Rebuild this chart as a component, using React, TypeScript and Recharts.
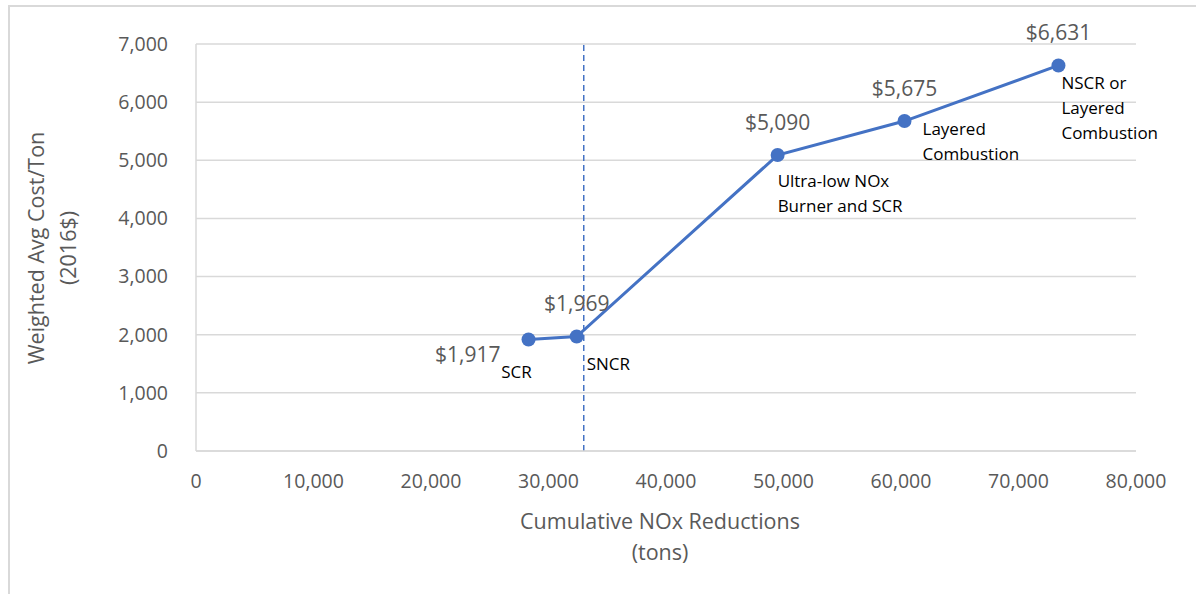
import React from "react";
import {
  LineChart,
  Line,
  XAxis,
  YAxis,
  CartesianGrid,
  ReferenceLine,
  LabelList,
} from "recharts";

// cumulative reductions (tons) and weighted cost per ton
const reductions = [28300, 32400, 49500, 60300, 73400];
const costs = [1917, 1969, 5090, 5675, 6631];
const technologies = [
  "SCR",
  "SNCR",
  "Ultra-low NOx\nBurner and SCR",
  "Layered\nCombustion",
  "NSCR or\nLayered\nCombustion",
];
const xTicks = [0, 10000, 20000, 30000, 40000, 50000, 60000, 70000, 80000];
const yTicks = [0, 1000, 2000, 3000, 4000, 5000, 6000, 7000];
const dividerX = 33000;

const data = reductions.map((r, i) => ({
  reduction: r,
  cost: costs[i],
  tech: technologies[i],
}));

// label placement relative to each point (dx, dy, anchor)
const valuePos = [
  { dx: -28, dy: 22, anchor: "end" },
  { dx: 0, dy: -26, anchor: "middle" },
  { dx: 0, dy: -25, anchor: "middle" },
  { dx: 0, dy: -25, anchor: "middle" },
  { dx: 0, dy: -25, anchor: "middle" },
];
const techPos = [
  { dx: -12, dy: 38, anchor: "middle" },
  { dx: 10, dy: 33, anchor: "start" },
  { dx: 0, dy: 32, anchor: "start" },
  { dx: 18, dy: 14, anchor: "start" },
  { dx: 3, dy: 24, anchor: "start" },
];

const FONT = "'Open Sans', sans-serif";
const BLUE = "#4472C4";
const GRAY = "#595959";

const fmt = (v: number) => v.toLocaleString("en-US");

const ValueLabel = (props: any) => {
  const { x, y, value, index } = props;
  const p = valuePos[index];
  return (
    <text
      x={x + p.dx}
      y={y + p.dy}
      textAnchor={p.anchor}
      fill={GRAY}
      fontSize={21}
      fontFamily={FONT}
    >
      ${fmt(value)}
    </text>
  );
};

const TechLabel = (props: any) => {
  const { x, y, index } = props;
  const p = techPos[index];
  const lines = technologies[index].split("\n");
  return (
    <text
      x={x + p.dx}
      y={y + p.dy}
      textAnchor={p.anchor}
      fill="#000"
      fontSize={17}
      fontFamily={FONT}
    >
      {lines.map((l, i) => (
        <tspan key={i} x={x + p.dx} dy={i === 0 ? 0 : 25}>
          {l}
        </tspan>
      ))}
    </text>
  );
};

export default function App() {
  return (
    <div
      style={{
        position: "absolute",
        left: 0,
        top: 0,
        width: 1196,
        height: 594,
        background: "#fff",
        overflow: "hidden",
      }}
    >
      <div
        style={{
          position: "absolute",
          left: 8,
          top: 5,
          width: 1200,
          height: 600,
          borderTop: "2px solid #d9d9d9",
          borderLeft: "2px solid #d9d9d9",
        }}
      />
      <div style={{ position: "absolute", left: 0, top: 0 }}>
        <LineChart
          width={1196}
          height={594}
          data={data}
          margin={{ top: 44, right: 60, bottom: 103, left: 116 }}
        >
          <CartesianGrid
            vertical={false}
            stroke="#d9d9d9"
            strokeWidth={1.5}
          />
          <XAxis
            dataKey="reduction"
            type="number"
            domain={[0, 80000]}
            ticks={xTicks}
            tickFormatter={fmt}
            axisLine={{ stroke: "#d9d9d9", strokeWidth: 1.5 }}
            tickLine={false}
            height={40}
            tickMargin={17}
            tick={{ fill: GRAY, fontSize: 19.5, fontFamily: FONT }}
          />
          <YAxis
            type="number"
            domain={[0, 7000]}
            ticks={yTicks}
            tickFormatter={fmt}
            axisLine={{ stroke: "#d9d9d9", strokeWidth: 1.5 }}
            tickLine={false}
            width={80}
            tickMargin={22}
            tick={{ fill: GRAY, fontSize: 19.5, fontFamily: FONT }}
          />
          <ReferenceLine
            x={dividerX}
            stroke={BLUE}
            strokeDasharray="6 4"
            strokeWidth={1.5}
          />
          <Line
            dataKey="cost"
            stroke={BLUE}
            strokeWidth={3}
            dot={{ r: 7, fill: BLUE, stroke: BLUE, strokeWidth: 0 }}
            isAnimationActive={false}
          >
            <LabelList dataKey="cost" content={<ValueLabel />} />
            <LabelList dataKey="tech" content={<TechLabel />} />
          </Line>
          <text
            x={660}
            y={529}
            textAnchor="middle"
            fill={GRAY}
            fontSize={21.5}
            fontFamily={FONT}
          >
            Cumulative NOx Reductions
          </text>
          <text
            x={660}
            y={560}
            textAnchor="middle"
            fill={GRAY}
            fontSize={21.5}
            fontFamily={FONT}
          >
            (tons)
          </text>
          <text
            transform="translate(44 248) rotate(-90)"
            textAnchor="middle"
            fill={GRAY}
            fontSize={21.5}
            fontFamily={FONT}
          >
            Weighted Avg Cost/Ton
          </text>
          <text
            transform="translate(76 248) rotate(-90)"
            textAnchor="middle"
            fill={GRAY}
            fontSize={21.5}
            fontFamily={FONT}
          >
            (2016$)
          </text>
        </LineChart>
      </div>
    </div>
  );
}
